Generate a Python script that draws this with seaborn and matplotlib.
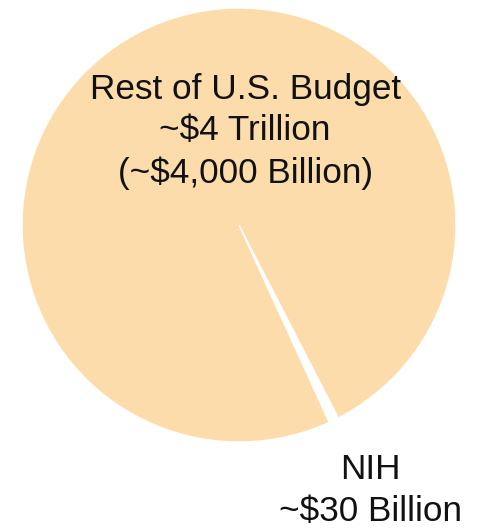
import matplotlib
matplotlib.use("Agg")
import matplotlib.pyplot as plt
import seaborn as sns

sns.set_theme(style="white")
plt.rcParams['font.family'] = ['Liberation Sans', 'DejaVu Sans']

categories = ["NIH", "Rest of U.S. Budget"]
values = [30, 4000]
labels = ["NIH\n~$30 Billion", "Rest of U.S. Budget\n~$4 Trillion\n(~$4,000 Billion)"]
colors = ["#FFFFFF", "#FDDCAB"]

fig = plt.figure(figsize=(4.79, 5.28), dpi=100)
ax = fig.add_axes([22/479, (528-442)/528, 434/479, 434/528])
share = values[0] / sum(values) * 360
wedges, _ = ax.pie(values, colors=colors, startangle=-64.1 - share/2, counterclock=True,
                   radius=1, wedgeprops=dict(edgecolor="white", linewidth=1.0))
ax.set_xlim(-1, 1)
ax.set_ylim(-1, 1)
ax.set_aspect("equal")
ax.axis("off")

ax.text(0.028, 0.432, labels[1], ha="center", va="center", fontsize=25.3,
        linespacing=1.34, color="#111111", clip_on=False)
ax.text(0.604, -1.222, labels[0], ha="center", va="center", fontsize=25.3,
        linespacing=1.34, color="#111111", clip_on=False)

fig.savefig("out.png", dpi=100)
